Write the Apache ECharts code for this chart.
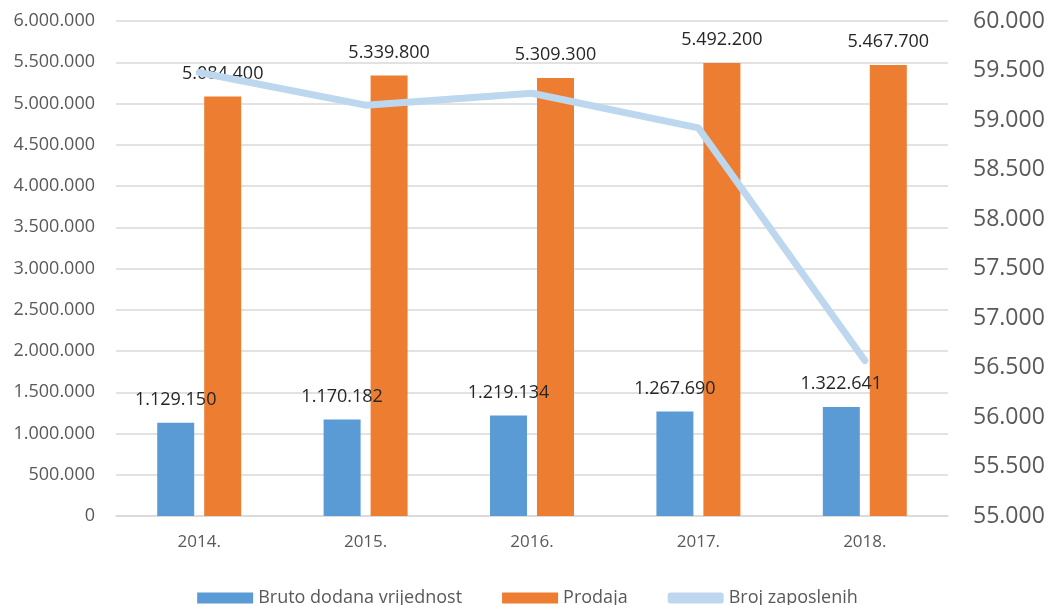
<!DOCTYPE html>
<html><head><meta charset="utf-8">
<script src="https://cdn.jsdelivr.net/npm/echarts@6/dist/echarts.min.js"></script>
<style>html,body{margin:0;padding:0;background:#fff}#c{width:1055px;height:605px}</style>
</head><body><div id="c"></div>
<script>
const categories = ['2014.', '2015.', '2016.', '2017.', '2018.'];
const brutoDodana = [1129150, 1170182, 1219134, 1267690, 1322641];
const prodaja = [5084400, 5339800, 5309300, 5492200, 5467700];
const brojZaposlenih = [59480, 59150, 59270, 58920, 56570];
const seriesNames = ['Bruto dodana vrijednost', 'Prodaja', 'Broj zaposlenih'];

function fmt(v){ return String(Math.round(v)).replace(/\B(?=(\d{3})+(?!\d))/g, '.'); }
const FONT = 'Open Sans';
const chart = echarts.init(document.getElementById('c'));
chart.setOption({
  animation: false,
  textStyle: {fontFamily: FONT},
  grid: {left: 116, right: 107, top: 21, bottom: 89, containLabel: false},
  legend: {
    bottom: -7, left: 'center', itemWidth: 56, itemHeight: 11, itemGap: 40,
    textStyle: {fontFamily: FONT, fontSize: 18, color: '#595959'},
    data: [
      {name: seriesNames[0], icon: 'rect'},
      {name: seriesNames[1], icon: 'rect'},
      {name: seriesNames[2], icon: 'roundRect'}
    ]
  },
  xAxis: {
    type: 'category', data: categories,
    axisLine: {lineStyle: {color: '#d9d9d9', width: 1.5}},
    axisTick: {show: false},
    axisLabel: {color: '#595959', fontSize: 17, margin: 18}
  },
  yAxis: [
    {type: 'value', min: 0, max: 6000000, interval: 500000,
     axisLabel: {color: '#595959', fontSize: 18, margin: 21, formatter: fmt},
     splitLine: {lineStyle: {color: '#d9d9d9', width: 1.5}},
     axisLine: {show: false}, axisTick: {show: false}},
    {type: 'value', min: 55000, max: 60000, interval: 500,
     axisLabel: {color: '#595959', fontSize: 23, margin: 25, formatter: fmt},
     splitLine: {show: false},
     axisLine: {show: false}, axisTick: {show: false}}
  ],
  series: [
    {name: seriesNames[0], type: 'bar', data: brutoDodana, barWidth: 37, barGap: '27%',
     itemStyle: {color: '#5B9BD5'},
     label: {show: true, position: 'top', distance: 14, color: '#262626', fontSize: 18, formatter: p => fmt(p.value)}},
    {name: seriesNames[1], type: 'bar', data: prodaja, barWidth: 37,
     itemStyle: {color: '#ED7D31'},
     label: {show: true, position: 'top', distance: 14, color: '#262626', fontSize: 18, formatter: p => fmt(p.value)}},
    {name: seriesNames[2], type: 'line', yAxisIndex: 1, data: brojZaposlenih,
     showSymbol: false, symbol: 'none',
     lineStyle: {color: '#BDD7EE', width: 7, cap: 'round', join: 'round'},
     itemStyle: {color: '#BDD7EE'}}
  ]
});
</script></body></html>
